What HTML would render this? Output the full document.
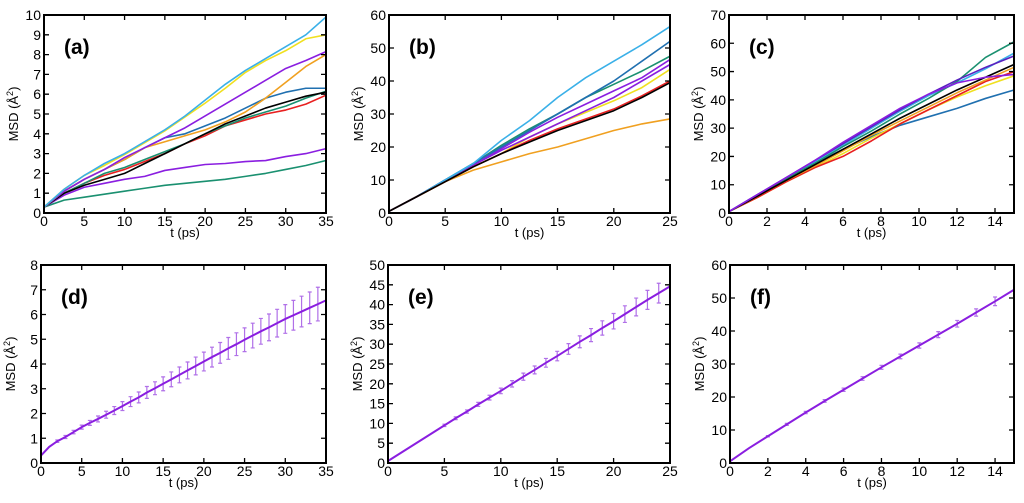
<!DOCTYPE html>
<html><head><meta charset="utf-8"><style>
body{margin:0;background:#fff;width:1024px;height:498px;overflow:hidden}
svg{font-family:"Liberation Sans",Arial,sans-serif}
</style></head><body>
<svg id="fig" width="1024" height="498"></svg>
<script>
// ---- data ----
const aT=[0,2.5,5,7.5,10,12.5,15,17.5,20,22.5,25,27.5,30,32.5,35];
const aSky=[0.3,1.2,1.9,2.5,3.0,3.6,4.2,4.9,5.7,6.5,7.2,7.8,8.4,9.0,9.9];
const aYellow=[0.3,1.2,1.9,2.4,2.95,3.55,4.15,4.85,5.55,6.3,7.1,7.7,8.2,8.8,9.0];
const aPurple=[0.3,1.1,1.7,2.2,2.8,3.3,3.8,4.3,4.9,5.5,6.1,6.7,7.3,7.7,8.15];
const aOrange=[0.3,1.1,1.7,2.2,2.7,3.3,3.6,3.9,4.2,4.6,5.1,5.8,6.6,7.4,8.0];
const aBlue=[0.3,1.1,1.7,2.2,2.7,3.3,3.8,4.0,4.4,4.8,5.3,5.8,6.1,6.3,6.3];
const aBlack=[0.3,1.0,1.4,1.7,2.0,2.5,3.0,3.5,4.0,4.5,4.9,5.3,5.6,5.9,6.1];
const aGreen=[0.3,1.0,1.5,2.0,2.3,2.7,3.1,3.5,4.0,4.4,4.8,5.1,5.4,5.8,6.15];
const aRed=[0.3,1.0,1.5,1.9,2.2,2.6,3.0,3.5,3.9,4.4,4.7,5.0,5.2,5.5,5.95];
const aPurple2=[0.3,0.9,1.3,1.5,1.7,1.85,2.15,2.3,2.45,2.5,2.6,2.65,2.85,3.0,3.25];
const aGreen2=[0.3,0.65,0.8,0.95,1.1,1.25,1.4,1.5,1.6,1.7,1.85,2.0,2.2,2.4,2.65];

const bT=[0,2.5,5,7.5,10,12.5,15,17.5,20,22.5,25];
const bSky=[0.5,5,10,15,22,28,35,41,46,51,56.5];
const bBlue=[0.5,5,10,15,20,25,30,35,40,46,52];
const bGreen=[0.5,5,10,15,20.5,25.5,30,35,39,43,47.5];
const bPurple=[0.5,5,10,14.5,19.5,24.5,29,33,37,41,46.5];
const bPurple2=[0.5,5,10,14.5,19,23,27,31,35,40,45];
const bYellow=[0.5,5,9.5,14,18,23,27,30.5,34,38,43.5];
const bRed=[0.5,5,9.5,14,18,22,25.5,28.5,31.5,35.5,40];
const bBlack=[0.5,5,9.5,14,18,21.5,25,28,31,35,39.5];
const bOrange=[0.5,5,9.5,13,15.5,18,20,22.5,25,27,28.5];

const cT=[0,1.5,3,4.5,6,7.5,9,10.5,12,13.5,15];
const cGreen=[0.5,6,12,17.5,23.5,29,35,40.5,46.5,55,60.5];
const cPurple=[0.5,6.5,12.5,18.5,25,31,37,42,46,48,49];
const cSky=[0.5,6.5,12,18,24,30,36,41.5,46,51,56.5];
const cBlack=[0.5,6,11.5,17,22.5,28,33.5,38.5,43.5,48,52.5];
const cOrange=[0.5,6,11.5,16.5,22,27.5,32.5,37.5,42.5,47,51.5];
const cYellow=[0.5,5.5,11,16,21,26.5,31.5,36.5,41,45,48.5];
const cRed=[0.5,5.5,11,16,20,25.5,31.5,36.5,41.5,46.5,50];
const cBlue=[0.5,6,12,17.5,22.5,27,31,34,37,40.5,43.5];
const cPurple2=[0.5,6.5,12.5,18.5,24.5,30.5,36.5,42,47,51.5,55.5];

const dT=[0,1,2,3,4,5,6,7,8,9,10,11,12,13,14,15,16,17,18,19,20,21,22,23,24,25,26,27,28,29,30,31,32,33,34,35];
const dMean=[0.3,0.65,0.88,1.05,1.25,1.45,1.62,1.78,1.95,2.12,2.3,2.48,2.65,2.85,3.02,3.2,3.38,3.56,3.74,3.92,4.1,4.28,4.45,4.63,4.8,4.98,5.15,5.32,5.48,5.65,5.82,5.97,6.12,6.27,6.42,6.57];
const dErr=[0,0,0.05,0.06,0.07,0.08,0.1,0.12,0.14,0.16,0.18,0.2,0.22,0.24,0.26,0.28,0.3,0.32,0.34,0.36,0.38,0.4,0.42,0.44,0.46,0.48,0.5,0.52,0.54,0.56,0.58,0.6,0.62,0.64,0.68,0];

const eT=[0,1,2,3,4,5,6,7,8,9,10,11,12,13,14,15,16,17,18,19,20,21,22,23,24,25];
const eMean=[0.5,2.3,4.1,5.9,7.7,9.5,11.3,13.0,14.8,16.5,18.2,20,21.8,23.5,25.3,27,28.8,30.6,32.3,34.1,35.8,37.6,39.4,41.2,42.9,44.6];
const eErr=[0,0,0,0,0,0.3,0.35,0.4,0.5,0.6,0.7,0.8,0.9,1.0,1.1,1.2,1.35,1.5,1.65,1.8,1.95,2.1,2.25,2.4,2.5,0];

const fT=[0,1,2,3,4,5,6,7,8,9,10,11,12,13,14,15];
const fMean=[0.5,4.5,8.1,11.7,15.3,18.8,22.2,25.6,29.0,32.3,35.6,38.9,42.2,45.6,49.0,52.5];
const fErr=[0,0,0.2,0.3,0.35,0.4,0.5,0.55,0.6,0.7,0.8,0.9,1.0,1.1,1.3,0];

const aTicksX=[0,5,10,15,20,25,30,35], aTicksY=[0,1,2,3,4,5,6,7,8,9,10];
const bTicksX=[0,5,10,15,20,25], bTicksY=[0,10,20,30,40,50,60];
const cTicksX=[0,2,4,6,8,10,12,14], cTicksY=[0,10,20,30,40,50,60,70];
const dTicksY=[0,1,2,3,4,5,6,7,8];
const eTicksY=[0,5,10,15,20,25,30,35,40,45,50];
const fTicksY=[0,10,20,30,40,50,60];

const NS="http://www.w3.org/2000/svg";
const svg=document.getElementById('fig');
function mk(tag,attrs,parent,text){const e=document.createElementNS(NS,tag);for(const k in attrs)e.setAttribute(k,attrs[k]);if(text!==undefined)e.textContent=text;(parent||svg).appendChild(e);return e;}

function panel(id,box,xMax,yMax,xTicks,yTicks,label,series,errSeries){
  const g=mk('g',{});
  
  
  const [L,T,R,B]=box;
  const sx=v=>L+(v/xMax)*(R-L), sy=v=>B-(v/yMax)*(B-T);
  series.forEach(s=>{
    const p=mk('polyline',{points:s.t.map((t,i)=>sx(t)+','+sy(s.y[i])).join(' '),fill:'none',stroke:s.c,'stroke-width':1.6,'stroke-linejoin':'round'},g);
    
    
  });
  if(errSeries){
    const s=errSeries;
    s.t.forEach((t,i)=>{
      if(!s.e[i])return;
      const x=sx(t),y1=sy(s.y[i]-s.e[i]),y2=sy(s.y[i]+s.e[i]);
      const eb=mk('path',{d:`M${x},${y1}V${y2}M${x-2},${y1}H${x+2}M${x-2},${y2}H${x+2}`,stroke:'#b070e8','stroke-width':1.2,fill:'none'},g);
      
      
    });
    const p=mk('polyline',{points:s.t.map((t,i)=>sx(t)+','+sy(s.y[i])).join(' '),fill:'none',stroke:'#8a1ee0','stroke-width':2},g);
    
    
  }
  const fr=mk('rect',{x:L,y:T,width:R-L,height:B-T,fill:'none',stroke:'#000','stroke-width':2},g);
  
  
  xTicks.forEach(v=>{
    const x=sx(v);
    mk('path',{d:`M${x},${B}v-5M${x},${T}v5`,stroke:'#000','stroke-width':1.3},g);
    const tl=mk('text',{x:x,y:B+13,'text-anchor':'middle','font-size':14,fill:'#000'},g,v);
    
    
  });
  yTicks.forEach(v=>{
    const y=sy(v);
    mk('path',{d:`M${L},${y}h5M${R},${y}h-5`,stroke:'#000','stroke-width':1.3},g);
    const tl=mk('text',{x:L-3,y:y+5,'text-anchor':'end','font-size':14,fill:'#000'},g,v);
    
    
  });
  const xt=mk('text',{x:(L+R)/2,y:B+24,'text-anchor':'middle','font-size':13},g,'t (ps)');
  
  
  const yt=mk('text',{x:0,y:0,'text-anchor':'middle','font-size':13,transform:`translate(${L-26},${(T+B)/2}) rotate(-90)`},g);
  
  
  yt.appendChild(document.createTextNode('MSD (Å'));
  mk('tspan',{dy:-5,'font-size':9},yt,'2');
  mk('tspan',{dy:5},yt,')');
  const pl=mk('text',{x:L+20,y:T+39,'font-size':21,'font-weight':'bold'},g,label);
  
  
}
const SKY='#3ab0e8',YEL='#f0e020',PUR='#8a1ee0',ORA='#f0a020',BLU='#2070b0',BLK='#000',GRN='#1a9070',RED='#e82020';
panel('a',[44,15,326,213],35,10,aTicksX,aTicksY,'(a)',[
 {n:'green2',t:aT,y:aGreen2,c:GRN},{n:'purple2',t:aT,y:aPurple2,c:PUR},{n:'red',t:aT,y:aRed,c:RED},
 {n:'green',t:aT,y:aGreen,c:GRN},{n:'black',t:aT,y:aBlack,c:BLK},{n:'blue',t:aT,y:aBlue,c:BLU},
 {n:'orange',t:aT,y:aOrange,c:ORA},{n:'purple',t:aT,y:aPurple,c:PUR},{n:'yellow',t:aT,y:aYellow,c:YEL},{n:'sky',t:aT,y:aSky,c:SKY}]);
panel('b',[389,15,670,213],25,60,bTicksX,bTicksY,'(b)',[
 {n:'orange',t:bT,y:bOrange,c:ORA},{n:'yellow',t:bT,y:bYellow,c:YEL},{n:'purple2',t:bT,y:bPurple2,c:PUR},
 {n:'purple',t:bT,y:bPurple,c:PUR},{n:'green',t:bT,y:bGreen,c:GRN},{n:'blue',t:bT,y:bBlue,c:BLU},
 {n:'sky',t:bT,y:bSky,c:SKY},{n:'red',t:bT,y:bRed,c:RED},{n:'black',t:bT,y:bBlack,c:BLK}]);
panel('c',[729,15,1014,213],15,70,cTicksX,cTicksY,'(c)',[
 {n:'blue',t:cT,y:cBlue,c:BLU},{n:'yellow',t:cT,y:cYellow,c:YEL},{n:'red',t:cT,y:cRed,c:RED},
 {n:'orange',t:cT,y:cOrange,c:ORA},{n:'sky',t:cT,y:cSky,c:SKY},{n:'green',t:cT,y:cGreen,c:GRN},
 {n:'black',t:cT,y:cBlack,c:BLK},{n:'purple2',t:cT,y:cPurple2,c:'#5a20c0'},{n:'purple',t:cT,y:cPurple,c:PUR}]);
panel('d',[41,265,326,463],35,8,aTicksX,dTicksY,'(d)',[],{t:dT,y:dMean,e:dErr});
panel('e',[388,265,670,463],25,50,bTicksX,eTicksY,'(e)',[],{t:eT,y:eMean,e:eErr});
panel('f',[730,265,1014,463],15,60,cTicksX,fTicksY,'(f)',[],{t:fT,y:fMean,e:fErr});
</script>
</body></html>
